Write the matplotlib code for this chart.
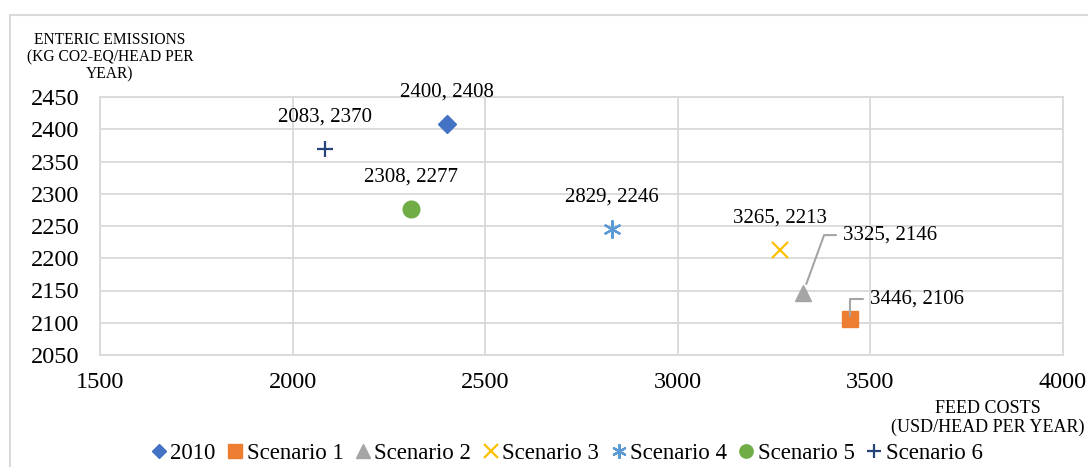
import matplotlib.pyplot as plt
from matplotlib.patches import Rectangle

plt.rcParams['font.family'] = ['Liberation Serif', 'DejaVu Serif']

# data
names = ['2010', 'Scenario 1', 'Scenario 2', 'Scenario 3', 'Scenario 4', 'Scenario 5', 'Scenario 6']
feed_costs = [2400, 3446, 3325, 3265, 2829, 2308, 2083]
emissions = [2408, 2106, 2146, 2213, 2246, 2277, 2370]

x_ticks = [1500, 2000, 2500, 3000, 3500, 4000]
y_ticks = [2050, 2100, 2150, 2200, 2250, 2300, 2350, 2400, 2450]

markers = ['D', 's', '^', 'x', (6, 2, 0), 'o', '+']
colors = ['#4472C4', '#ED7D31', '#A5A5A5', '#FFC000', '#5B9BD5', '#70AD47', '#264478']
sizes = [9, 12, 12, 12, 13, 12, 12]

fig = plt.figure(figsize=(10.88, 4.67), dpi=100)
ax = fig.add_axes([100 / 1088, 1 - 355 / 467, 963 / 1088, 258 / 467])

# chart border
fig.patches.append(Rectangle((10 / 1088, -0.1), 1.2, 1 - 15 / 467 + 0.1,
                             transform=fig.transFigure, fill=False,
                             edgecolor='#D9D9D9', linewidth=1.5))

for n, x, y, m, c, s in zip(names, feed_costs, emissions, markers, colors, sizes):
    mew = 1.6 if m in ('x', '+') or isinstance(m, tuple) else 1
    ax.plot(x, y, linestyle='none', marker=m, color=c, markersize=s,
            markeredgewidth=mew, label=n, zorder=3)

# data labels
label_style = dict(fontsize=15, textcoords='offset pixels', zorder=4)
for n, x, y in zip(names, feed_costs, emissions):
    txt = f'{x}, {y}'
    if n == 'Scenario 2':
        ax.annotate(txt, (x, y), xytext=(40, 58), ha='left', va='center',
                    arrowprops=dict(arrowstyle='-', color='#A5A5A5', lw=1.5,
                                    relpos=(0, 0.5), shrinkA=3, shrinkB=7,
                                    connectionstyle='angle,angleA=0,angleB=70,rad=0'),
                    **label_style)
    elif n == 'Scenario 1':
        ax.annotate(txt, (x, y), xytext=(20, 20), ha='left', va='center',
                    arrowprops=dict(arrowstyle='-', color='#A5A5A5', lw=1.5,
                                    relpos=(0, 0.5), shrinkA=3, shrinkB=2,
                                    connectionstyle='angle,angleA=0,angleB=90,rad=0'),
                    **label_style)
    else:
        ax.annotate(txt, (x, y), xytext=(0, 32), ha='center', va='center', **label_style)

ax.set_xlim(1500, 4000)
ax.set_ylim(2050, 2450)
ax.set_xticks(x_ticks)
ax.set_yticks(y_ticks)
ax.tick_params(labelsize=17.5, length=0)
ax.tick_params(axis='y', pad=15)
ax.tick_params(axis='x', pad=12)
ax.grid(True, color='#D9D9D9', linewidth=1.3, zorder=0)
ax.set_axisbelow(True)
for sp in ax.spines.values():
    sp.set_color('#D9D9D9')
    sp.set_linewidth(1.3)

fig.text(110 / 1088, 1 - 57 / 467, 'ENTERIC EMISSIONS\n(KG CO2-EQ/HEAD PER\nYEAR)',
         ha='center', va='center', fontsize=11.2, linespacing=1.1)
fig.text(988 / 1088, 1 - 418 / 467, 'FEED COSTS\n(USD/HEAD PER YEAR)',
         ha='center', va='center', fontsize=13, linespacing=1.15)

fig.legend(loc='center', bbox_to_anchor=(565 / 1088, 1 - 453 / 467), ncol=7,
           frameon=False, fontsize=16.5, handletextpad=0.0, columnspacing=0.35,
           handlelength=1.0, borderaxespad=0, markerscale=0.8)

fig.savefig('out.png', dpi=100)
